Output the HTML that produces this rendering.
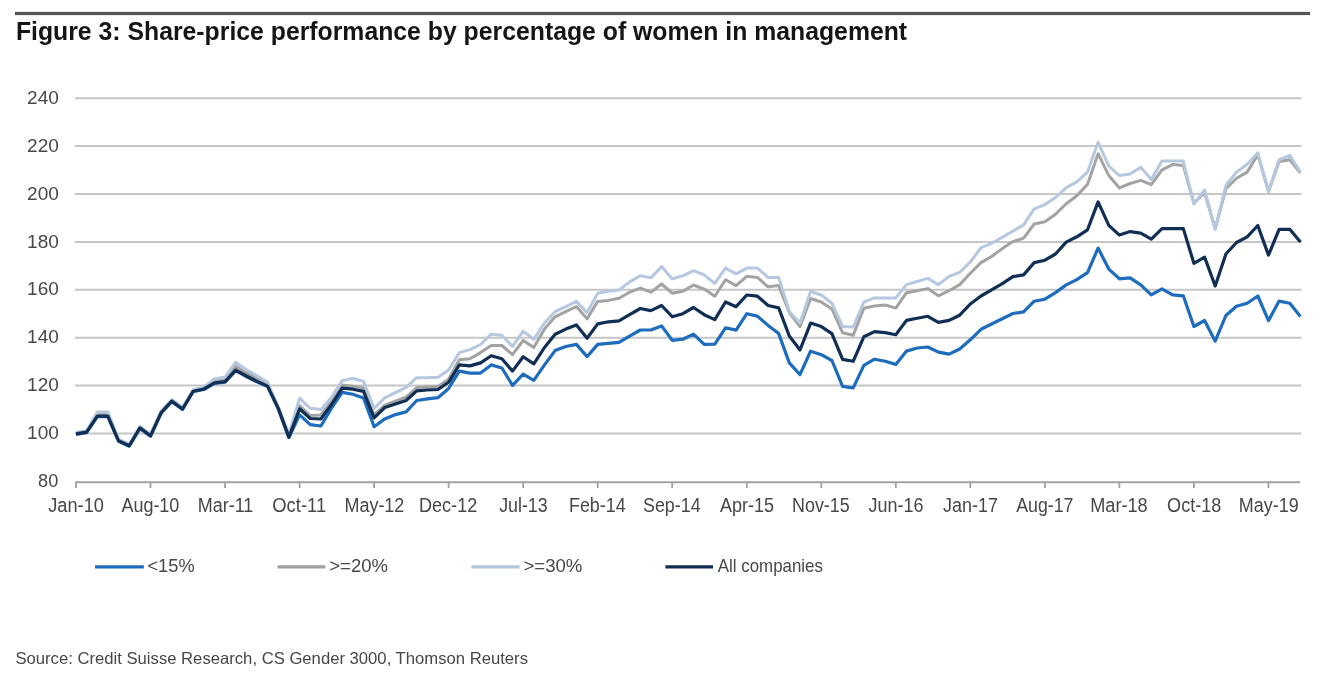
<!DOCTYPE html>
<html><head><meta charset="utf-8"><style>
html,body{margin:0;padding:0;background:#fff;width:1341px;height:684px;overflow:hidden}
svg{display:block;font-family:"Liberation Sans",sans-serif;will-change:transform}
</style></head><body>
<svg width="1341" height="684" viewBox="0 0 1341 684">
<rect x="15" y="11.9" width="1295" height="3.2" fill="#555555"/>
<line x1="75" y1="98.2" x2="1301.5" y2="98.2" stroke="#C6C6C6" stroke-width="2"/><line x1="75" y1="146.1" x2="1301.5" y2="146.1" stroke="#C6C6C6" stroke-width="2"/><line x1="75" y1="194.0" x2="1301.5" y2="194.0" stroke="#C6C6C6" stroke-width="2"/><line x1="75" y1="241.9" x2="1301.5" y2="241.9" stroke="#C6C6C6" stroke-width="2"/><line x1="75" y1="289.8" x2="1301.5" y2="289.8" stroke="#C6C6C6" stroke-width="2"/><line x1="75" y1="337.7" x2="1301.5" y2="337.7" stroke="#C6C6C6" stroke-width="2"/><line x1="75" y1="385.6" x2="1301.5" y2="385.6" stroke="#C6C6C6" stroke-width="2"/><line x1="75" y1="433.5" x2="1301.5" y2="433.5" stroke="#C6C6C6" stroke-width="2"/>
<line x1="75" y1="482.2" x2="1300" y2="482.2" stroke="#A3A3A3" stroke-width="2"/>
<line x1="76.0" y1="482" x2="76.0" y2="488" stroke="#A0A0A0" stroke-width="1.8"/><line x1="150.5" y1="482" x2="150.5" y2="488" stroke="#A0A0A0" stroke-width="1.8"/><line x1="225.1" y1="482" x2="225.1" y2="488" stroke="#A0A0A0" stroke-width="1.8"/><line x1="299.6" y1="482" x2="299.6" y2="488" stroke="#A0A0A0" stroke-width="1.8"/><line x1="374.1" y1="482" x2="374.1" y2="488" stroke="#A0A0A0" stroke-width="1.8"/><line x1="448.6" y1="482" x2="448.6" y2="488" stroke="#A0A0A0" stroke-width="1.8"/><line x1="523.2" y1="482" x2="523.2" y2="488" stroke="#A0A0A0" stroke-width="1.8"/><line x1="597.7" y1="482" x2="597.7" y2="488" stroke="#A0A0A0" stroke-width="1.8"/><line x1="672.2" y1="482" x2="672.2" y2="488" stroke="#A0A0A0" stroke-width="1.8"/><line x1="746.8" y1="482" x2="746.8" y2="488" stroke="#A0A0A0" stroke-width="1.8"/><line x1="821.3" y1="482" x2="821.3" y2="488" stroke="#A0A0A0" stroke-width="1.8"/><line x1="895.8" y1="482" x2="895.8" y2="488" stroke="#A0A0A0" stroke-width="1.8"/><line x1="970.3" y1="482" x2="970.3" y2="488" stroke="#A0A0A0" stroke-width="1.8"/><line x1="1044.9" y1="482" x2="1044.9" y2="488" stroke="#A0A0A0" stroke-width="1.8"/><line x1="1119.4" y1="482" x2="1119.4" y2="488" stroke="#A0A0A0" stroke-width="1.8"/><line x1="1193.9" y1="482" x2="1193.9" y2="488" stroke="#A0A0A0" stroke-width="1.8"/><line x1="1268.5" y1="482" x2="1268.5" y2="488" stroke="#A0A0A0" stroke-width="1.8"/>
<g fill="none" stroke-width="3.2" stroke-linejoin="round" stroke-linecap="butt">
<path d="M76.0,434.3 L86.6,432.7 L97.3,416.6 L107.9,416.6 L118.6,441.3 L129.2,446.2 L139.9,428.4 L150.5,436.3 L161.2,413.0 L171.8,401.6 L182.5,409.5 L193.1,391.7 L203.8,389.5 L214.4,383.4 L225.1,382.2 L235.7,370.6 L246.4,376.5 L257.0,381.9 L267.6,386.6 L278.3,408.9 L288.9,437.6 L299.6,414.8 L310.2,424.7 L320.9,426.0 L331.5,408.2 L342.2,392.4 L352.8,394.3 L363.5,397.9 L374.1,426.7 L384.8,418.9 L395.4,414.6 L406.1,411.9 L416.7,400.5 L427.4,398.8 L438.0,397.7 L448.6,388.5 L459.3,371.1 L469.9,373.1 L480.6,373.1 L491.2,364.9 L501.9,368.0 L512.5,385.4 L523.2,374.1 L533.8,380.3 L544.5,364.9 L555.1,350.6 L565.8,346.5 L576.4,344.4 L587.1,356.6 L597.7,344.4 L608.4,343.3 L619.0,342.3 L629.6,336.2 L640.3,330.0 L650.9,330.0 L661.6,325.9 L672.2,340.3 L682.9,339.2 L693.5,334.1 L704.2,344.4 L714.8,344.1 L725.5,327.8 L736.1,330.1 L746.8,313.7 L757.4,316.1 L768.1,325.4 L778.7,333.6 L789.3,362.9 L800.0,374.6 L810.6,351.2 L821.3,354.7 L831.9,360.5 L842.6,386.3 L853.2,387.9 L863.9,365.4 L874.5,359.2 L885.2,361.3 L895.8,364.4 L906.5,351.1 L917.1,348.0 L927.8,347.0 L938.4,352.1 L949.1,354.1 L959.7,349.0 L970.3,339.8 L981.0,329.3 L991.6,324.0 L1002.3,318.8 L1012.9,313.5 L1023.6,311.8 L1034.2,301.2 L1044.9,299.2 L1055.5,292.6 L1066.2,284.9 L1076.8,279.6 L1087.5,272.6 L1098.1,248.1 L1108.8,269.1 L1119.4,278.8 L1130.1,277.9 L1140.7,284.9 L1151.3,294.9 L1162.0,288.8 L1172.6,294.9 L1183.3,295.8 L1193.9,326.5 L1204.6,320.5 L1215.2,341.2 L1225.9,315.5 L1236.5,306.3 L1247.2,303.2 L1257.8,296.0 L1268.5,320.6 L1279.1,301.1 L1289.8,303.2 L1300.4,316.5" stroke="#1D6CBD"/>
<path d="M76.0,433.1 L86.6,431.5 L97.3,414.1 L107.9,414.1 L118.6,440.0 L129.2,445.0 L139.9,427.2 L150.5,435.0 L161.2,411.8 L171.8,400.3 L182.5,408.3 L193.1,390.4 L203.8,388.2 L214.4,380.9 L225.1,379.3 L235.7,366.2 L246.4,372.9 L257.0,378.6 L267.6,384.1 L278.3,407.9 L288.9,435.6 L299.6,405.6 L310.2,415.5 L320.9,414.9 L331.5,401.4 L342.2,385.1 L352.8,386.3 L363.5,388.1 L374.1,414.9 L384.8,405.1 L395.4,401.2 L406.1,397.2 L416.7,387.6 L427.4,386.9 L438.0,386.4 L448.6,379.2 L459.3,359.8 L469.9,358.8 L480.6,352.6 L491.2,345.5 L501.9,345.5 L512.5,354.7 L523.2,340.4 L533.8,347.5 L544.5,329.1 L555.1,316.8 L565.8,311.7 L576.4,306.5 L587.1,318.8 L597.7,301.4 L608.4,300.4 L619.0,298.3 L629.6,292.2 L640.3,288.1 L650.9,292.2 L661.6,284.0 L672.2,293.2 L682.9,291.2 L693.5,285.0 L704.2,289.1 L714.8,296.2 L725.5,279.8 L736.1,285.6 L746.8,276.3 L757.4,277.4 L768.1,286.8 L778.7,285.6 L789.3,312.5 L800.0,326.6 L810.6,298.5 L821.3,302.0 L831.9,309.0 L842.6,332.7 L853.2,335.2 L863.9,308.1 L874.5,306.0 L885.2,305.0 L895.8,308.1 L906.5,292.7 L917.1,290.7 L927.8,288.6 L938.4,295.8 L949.1,290.7 L959.7,284.6 L970.3,273.3 L981.0,262.6 L991.6,256.5 L1002.3,248.6 L1012.9,241.6 L1023.6,238.1 L1034.2,224.0 L1044.9,221.8 L1055.5,214.3 L1066.2,203.7 L1076.8,195.8 L1087.5,184.4 L1098.1,153.7 L1108.8,175.6 L1119.4,187.9 L1130.1,183.5 L1140.7,180.4 L1151.3,184.7 L1162.0,169.8 L1172.6,164.6 L1183.3,165.4 L1193.9,203.2 L1204.6,192.6 L1215.2,228.6 L1225.9,188.8 L1236.5,178.2 L1247.2,172.1 L1257.8,154.6 L1268.5,191.4 L1279.1,161.6 L1289.8,159.8 L1300.4,173.0" stroke="#A3A3A3" stroke-width="3"/>
<path d="M76.0,432.3 L86.6,430.7 L97.3,412.1 L107.9,412.1 L118.6,439.3 L129.2,444.2 L139.9,426.4 L150.5,434.3 L161.2,411.0 L171.8,399.6 L182.5,407.5 L193.1,389.7 L203.8,387.5 L214.4,378.9 L225.1,377.0 L235.7,362.2 L246.4,369.7 L257.0,375.7 L267.6,382.2 L278.3,407.4 L288.9,434.1 L299.6,398.2 L310.2,408.3 L320.9,409.5 L331.5,397.1 L342.2,380.6 L352.8,378.2 L363.5,381.4 L374.1,408.3 L384.8,397.9 L395.4,392.6 L406.1,387.4 L416.7,377.7 L427.4,377.7 L438.0,377.2 L448.6,370.0 L459.3,352.6 L469.9,349.6 L480.6,344.5 L491.2,334.2 L501.9,335.2 L512.5,346.5 L523.2,331.2 L533.8,339.3 L544.5,323.0 L555.1,311.7 L565.8,306.6 L576.4,301.4 L587.1,312.6 L597.7,293.2 L608.4,291.2 L619.0,290.1 L629.6,281.9 L640.3,275.8 L650.9,277.9 L661.6,266.6 L672.2,278.9 L682.9,275.8 L693.5,270.7 L704.2,274.8 L714.8,283.3 L725.5,268.1 L736.1,273.9 L746.8,268.1 L757.4,268.1 L768.1,277.4 L778.7,277.4 L789.3,311.4 L800.0,323.1 L810.6,291.5 L821.3,295.0 L831.9,303.2 L842.6,326.5 L853.2,327.1 L863.9,301.9 L874.5,297.9 L885.2,297.9 L895.8,297.9 L906.5,284.6 L917.1,281.5 L927.8,278.4 L938.4,284.6 L949.1,276.4 L959.7,272.3 L970.3,262.0 L981.0,247.7 L991.6,243.3 L1002.3,237.2 L1012.9,231.1 L1023.6,224.9 L1034.2,208.9 L1044.9,204.6 L1055.5,197.5 L1066.2,187.9 L1076.8,181.8 L1087.5,172.1 L1098.1,142.3 L1108.8,166.0 L1119.4,175.6 L1130.1,173.9 L1140.7,167.2 L1151.3,179.5 L1162.0,161.1 L1172.6,161.1 L1183.3,161.1 L1193.9,204.0 L1204.6,190.0 L1215.2,229.5 L1225.9,185.3 L1236.5,172.1 L1247.2,164.2 L1257.8,152.8 L1268.5,191.4 L1279.1,159.8 L1289.8,155.4 L1300.4,172.1" stroke="#B6C8DF" stroke-width="3"/>
<path d="M76.0,433.8 L86.6,432.2 L97.3,416.1 L107.9,416.1 L118.6,440.8 L129.2,445.7 L139.9,427.9 L150.5,435.8 L161.2,412.5 L171.8,401.1 L182.5,409.0 L193.1,391.2 L203.8,389.0 L214.4,382.9 L225.1,381.7 L235.7,370.1 L246.4,376.0 L257.0,381.4 L267.6,386.1 L278.3,408.4 L288.9,437.1 L299.6,408.8 L310.2,418.5 L320.9,419.0 L331.5,404.5 L342.2,388.1 L352.8,389.2 L363.5,391.4 L374.1,417.8 L384.8,407.5 L395.4,404.0 L406.1,400.5 L416.7,390.9 L427.4,390.0 L438.0,389.5 L448.6,382.3 L459.3,364.9 L469.9,365.9 L480.6,362.9 L491.2,355.7 L501.9,358.8 L512.5,371.1 L523.2,356.7 L533.8,363.9 L544.5,347.5 L555.1,334.2 L565.8,329.1 L576.4,324.9 L587.1,338.2 L597.7,323.9 L608.4,321.8 L619.0,320.8 L629.6,314.7 L640.3,308.5 L650.9,310.6 L661.6,305.5 L672.2,316.7 L682.9,313.7 L693.5,307.5 L704.2,314.7 L714.8,319.6 L725.5,302.0 L736.1,306.7 L746.8,295.0 L757.4,296.2 L768.1,305.5 L778.7,307.9 L789.3,336.0 L800.0,350.0 L810.6,323.1 L821.3,326.6 L831.9,333.6 L842.6,359.4 L853.2,361.3 L863.9,336.7 L874.5,331.6 L885.2,332.6 L895.8,334.7 L906.5,320.4 L917.1,318.3 L927.8,316.3 L938.4,322.4 L949.1,320.4 L959.7,315.2 L970.3,304.0 L981.0,296.0 L991.6,289.8 L1002.3,283.7 L1012.9,276.7 L1023.6,274.9 L1034.2,262.6 L1044.9,260.2 L1055.5,254.0 L1066.2,242.1 L1076.8,236.8 L1087.5,229.8 L1098.1,201.9 L1108.8,225.4 L1119.4,235.1 L1130.1,231.6 L1140.7,233.1 L1151.3,239.1 L1162.0,228.6 L1172.6,228.6 L1183.3,228.6 L1193.9,263.3 L1204.6,257.1 L1215.2,286.0 L1225.9,254.0 L1236.5,242.5 L1247.2,236.8 L1257.8,225.5 L1268.5,255.1 L1279.1,229.3 L1289.8,229.3 L1300.4,242.0" stroke="#112F55"/>
</g>
<g stroke-width="3.2">
<line x1="95" y1="566.8" x2="143.8" y2="566.8" stroke="#1D6CBD"/>
<line x1="277.5" y1="566.8" x2="325.3" y2="566.8" stroke="#A0A0A0"/>
<line x1="471.3" y1="566.8" x2="519.5" y2="566.8" stroke="#B3C6DF"/>
<line x1="665.4" y1="566.8" x2="713" y2="566.8" stroke="#112F55"/>
</g>
<text id="title" x="15.90" y="40.0" font-size="25" font-weight="bold" fill="#151515" textLength="891.24" lengthAdjust="spacingAndGlyphs">Figure 3: Share-price performance by percentage of women in management</text>
<text id="y240" x="27.10" y="103.80000000000001" font-size="19" font-weight="normal" fill="#474747" textLength="31.70" lengthAdjust="spacingAndGlyphs">240</text>
<text id="y220" x="27.10" y="151.7" font-size="19" font-weight="normal" fill="#474747" textLength="31.70" lengthAdjust="spacingAndGlyphs">220</text>
<text id="y200" x="27.10" y="199.6" font-size="19" font-weight="normal" fill="#474747" textLength="31.70" lengthAdjust="spacingAndGlyphs">200</text>
<text id="y180" x="27.10" y="247.49999999999997" font-size="19" font-weight="normal" fill="#474747" textLength="31.70" lengthAdjust="spacingAndGlyphs">180</text>
<text id="y160" x="27.10" y="295.4" font-size="19" font-weight="normal" fill="#474747" textLength="31.70" lengthAdjust="spacingAndGlyphs">160</text>
<text id="y140" x="27.10" y="343.29999999999995" font-size="19" font-weight="normal" fill="#474747" textLength="31.70" lengthAdjust="spacingAndGlyphs">140</text>
<text id="y120" x="27.10" y="391.19999999999993" font-size="19" font-weight="normal" fill="#474747" textLength="31.70" lengthAdjust="spacingAndGlyphs">120</text>
<text id="y100" x="27.10" y="439.09999999999997" font-size="19" font-weight="normal" fill="#474747" textLength="31.70" lengthAdjust="spacingAndGlyphs">100</text>
<text id="y80" x="38.10" y="486.99999999999994" font-size="19" font-weight="normal" fill="#474747" textLength="20.14" lengthAdjust="spacingAndGlyphs">80</text>
<text id="x0" x="76.06" y="512.2" font-size="19.5" fill="#474747" text-anchor="middle" textLength="55.62" lengthAdjust="spacingAndGlyphs">Jan-10</text>
<text id="x1" x="150.39" y="512.2" font-size="19.5" fill="#474747" text-anchor="middle" textLength="57.99" lengthAdjust="spacingAndGlyphs">Aug-10</text>
<text id="x2" x="225.58" y="512.2" font-size="19.5" fill="#474747" text-anchor="middle" textLength="55.63" lengthAdjust="spacingAndGlyphs">Mar-11</text>
<text id="x3" x="299.21" y="512.2" font-size="19.5" fill="#474747" text-anchor="middle" textLength="53.98" lengthAdjust="spacingAndGlyphs">Oct-11</text>
<text id="x4" x="374.43" y="512.2" font-size="19.5" fill="#474747" text-anchor="middle" textLength="59.83" lengthAdjust="spacingAndGlyphs">May-12</text>
<text id="x5" x="448.11" y="512.2" font-size="19.5" fill="#474747" text-anchor="middle" textLength="58.28" lengthAdjust="spacingAndGlyphs">Dec-12</text>
<text id="x6" x="523.39" y="512.2" font-size="19.5" fill="#474747" text-anchor="middle" textLength="48.53" lengthAdjust="spacingAndGlyphs">Jul-13</text>
<text id="x7" x="597.35" y="512.2" font-size="19.5" fill="#474747" text-anchor="middle" textLength="56.80" lengthAdjust="spacingAndGlyphs">Feb-14</text>
<text id="x8" x="671.82" y="512.2" font-size="19.5" fill="#474747" text-anchor="middle" textLength="57.59" lengthAdjust="spacingAndGlyphs">Sep-14</text>
<text id="x9" x="747.01" y="512.2" font-size="19.5" fill="#474747" text-anchor="middle" textLength="54.13" lengthAdjust="spacingAndGlyphs">Apr-15</text>
<text id="x10" x="820.87" y="512.2" font-size="19.5" fill="#474747" text-anchor="middle" textLength="57.58" lengthAdjust="spacingAndGlyphs">Nov-15</text>
<text id="x11" x="895.99" y="512.2" font-size="19.5" fill="#474747" text-anchor="middle" textLength="54.93" lengthAdjust="spacingAndGlyphs">Jun-16</text>
<text id="x12" x="970.53" y="512.2" font-size="19.5" fill="#474747" text-anchor="middle" textLength="54.93" lengthAdjust="spacingAndGlyphs">Jan-17</text>
<text id="x13" x="1044.85" y="512.2" font-size="19.5" fill="#474747" text-anchor="middle" textLength="57.29" lengthAdjust="spacingAndGlyphs">Aug-17</text>
<text id="x14" x="1118.94" y="512.2" font-size="19.5" fill="#474747" text-anchor="middle" textLength="57.48" lengthAdjust="spacingAndGlyphs">Mar-18</text>
<text id="x15" x="1194.18" y="512.2" font-size="19.5" fill="#474747" text-anchor="middle" textLength="54.13" lengthAdjust="spacingAndGlyphs">Oct-18</text>
<text id="x16" x="1268.78" y="512.2" font-size="19.5" fill="#474747" text-anchor="middle" textLength="59.83" lengthAdjust="spacingAndGlyphs">May-19</text>
<text id="l15" x="147.40" y="572.3" font-size="18.5" font-weight="normal" fill="#474747" textLength="47.24" lengthAdjust="spacingAndGlyphs">&lt;15%</text>
<text id="l20" x="329.30" y="572.3" font-size="18.5" font-weight="normal" fill="#474747" textLength="58.64" lengthAdjust="spacingAndGlyphs">&gt;=20%</text>
<text id="l30" x="523.40" y="572.3" font-size="18.5" font-weight="normal" fill="#474747" textLength="59.04" lengthAdjust="spacingAndGlyphs">&gt;=30%</text>
<text id="lall" x="717.80" y="572.3" font-size="18.5" font-weight="normal" fill="#474747" textLength="105.17" lengthAdjust="spacingAndGlyphs">All companies</text>
<text id="src" x="15.40" y="664.4" font-size="16.5" font-weight="normal" fill="#474747" textLength="512.58" lengthAdjust="spacingAndGlyphs">Source: Credit Suisse Research, CS Gender 3000, Thomson Reuters</text>

</svg>
</body></html>
